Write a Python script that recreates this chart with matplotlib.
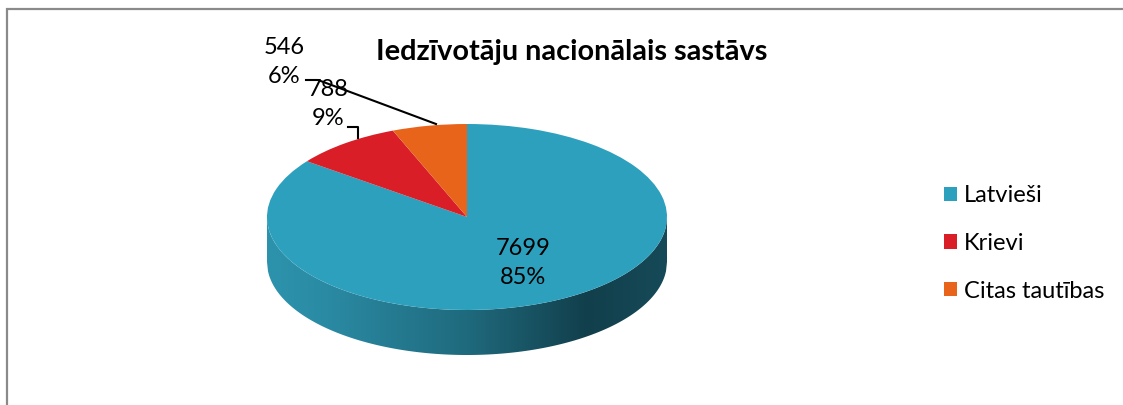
import numpy as np
import matplotlib
matplotlib.use("Agg")
import matplotlib.pyplot as plt
from matplotlib.patches import Rectangle
from matplotlib.colors import LinearSegmentedColormap

plt.rcParams['font.family'] = ['Lato', 'DejaVu Sans']

title = 'Iedzīvotāju nacionālais sastāvs'
categories = ['Latvieši', 'Krievi', 'Citas tautības']
counts = [7699, 788, 546]
colors = ['#2ca0bd', '#d91e27', '#e8641b']

W, H = 1123, 405
fig = plt.figure(figsize=(W / 100, H / 100), dpi=100)
ax = fig.add_axes([0, 0, 1, 1])

# pixel geometry of the pie (center, radii, side depth)
cx, cy, rx, ry, depth = 467, 217, 200, 93, 45
d = depth / ry

def to_data(px, py):
    return (px - cx) / rx, (cy - py) / ry

wedges, _ = ax.pie(counts, colors=colors, startangle=90, counterclock=False,
                   radius=1, wedgeprops=dict(linewidth=0))
ax.set_aspect('auto')

# 3d side of the cylinder, gradient from lighter left to dark right
xs = np.linspace(-1, 1, 400)
top = -np.sqrt(1 - xs ** 2)
side = ax.fill_between(xs, top, top - d, color='none', linewidth=0)
side_cmap = LinearSegmentedColormap.from_list(
    'side', [(0.0, '#2d93ad'), (0.15, '#2a8aa3'), (0.5, '#1f6a7d'),
             (0.8, '#123f4c'), (1.0, '#164a58')])
grad = np.linspace(0, 1, 256).reshape(1, -1)
im = ax.imshow(grad, extent=[-1, 1, -1 - d, 0], aspect='auto', cmap=side_cmap,
               zorder=0.5)
im.set_clip_path(side.get_paths()[0], transform=ax.transData)

total = sum(counts)
labels = ['{}\n{:.0f}%'.format(c, 100.0 * c / total) for c in counts]

# big slice label inside
ax.text(*to_data(523, 263), labels[0], ha='center', va='center', fontsize=17,
        linespacing=1.5, color='black')
# small slices: labels outside with leader lines
ax.text(*to_data(328, 104), labels[1], ha='center', va='center', fontsize=17,
        linespacing=1.5, color='black')
ax.plot(*zip(to_data(348, 127), to_data(358, 127), to_data(358, 138)),
        color='black', linewidth=1.5)
ax.text(*to_data(284, 62), labels[2], ha='center', va='center', fontsize=17,
        linespacing=1.5, color='black')
ax.plot(*zip(to_data(306, 80), to_data(318, 80), to_data(436, 124)),
        color='black', linewidth=1.5)

ax.set_xlim(-cx / rx, (W - cx) / rx)
ax.set_ylim((cy - H) / ry, cy / ry)
ax.axis('off')

fig.text(572 / W, 1 - 52 / H, title, ha='center', va='center',
         fontsize=20.8, fontweight='bold')

fig.legend(wedges, categories, loc='upper left',
           bbox_to_anchor=(923 / W, 1 - 164 / H), frameon=False, fontsize=17,
           handlelength=0.55, handleheight=0.55, handletextpad=0.3,
           labelspacing=1.13)

# chart border (grey, left and top visible)
fig.add_artist(Rectangle((6.5 / W, -0.1), 2, 1 - 8.5 / H + 0.1,
                         transform=fig.transFigure, fill=False,
                         edgecolor='#8a8a8a', linewidth=1.6))

fig.savefig('out.png', dpi=100)
